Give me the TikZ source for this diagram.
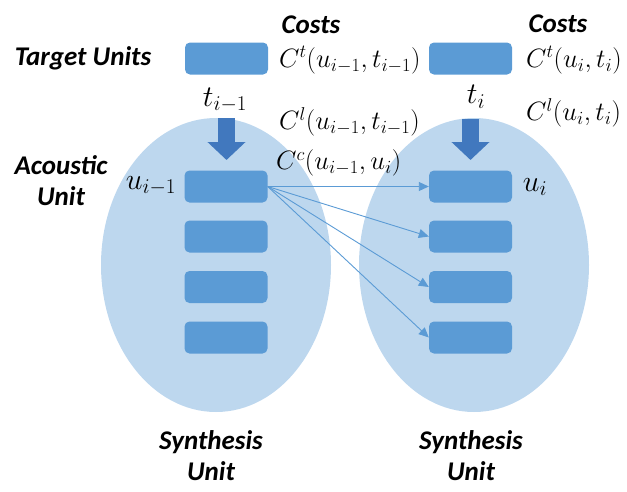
\RequirePackage{fix-cm}
\documentclass[tikz,border=0pt]{standalone}
\usepackage{fontspec}
\setmainfont{Carlito}
\usetikzlibrary{arrows.meta,shapes.geometric}
\definecolor{rectblue}{RGB}{91,155,213}
\definecolor{ellblue}{RGB}{189,215,238}
\definecolor{arrblue}{RGB}{65,120,190}
\begin{document}
\begin{tikzpicture}[x=1pt,y=-1pt,
  unitbox/.style={fill=rectblue, rounded corners=5pt, minimum width=83pt, minimum height=32pt, inner sep=0pt, draw=none},
  ellbox/.style={ellipse, fill=ellblue, draw=none, minimum width=230pt, minimum height=294pt, inner sep=0pt},
  lbl/.style={font=\fontsize{27}{31}\selectfont\bfseries\itshape, align=center, inner sep=0pt},
  mlbl/.style={font=\fontsize{26.5}{30}\selectfont, inner sep=0pt, anchor=west},
  vlbl/.style={font=\fontsize{30}{34}\selectfont, inner sep=0pt},
  bigarrow/.style={draw=arrblue, line width=17pt, -{Triangle[width=37pt,length=18pt]}},
  thinarrow/.style={draw=rectblue, line width=0.9pt, -{Triangle[width=9pt,length=10pt]}}]
\useasboundingbox (0,0) rectangle (627,491);
% ellipses
\node[ellbox] (ellL) at (216,265) {};
\node[ellbox] (ellR) at (474,265) {};
% target units
\node[unitbox] (tu1) at (226.5,58.5) {};
\node[unitbox] (tu2) at (470.5,58.5) {};
% acoustic units
\node[unitbox] (a1) at (226,186.5) {};
\node[unitbox] (a2) at (226,236.5) {};
\node[unitbox] (a3) at (226,287) {};
\node[unitbox] (a4) at (226,337.5) {};
\node[unitbox] (b1) at (470.5,186.5) {};
\node[unitbox] (b2) at (470.5,236.5) {};
\node[unitbox] (b3) at (470.5,287) {};
\node[unitbox] (b4) at (470.5,337.5) {};
% big arrows
\coordinate (s1) at (226.5,118);
\coordinate (e1) at (226.5,160);
\coordinate (s2) at (470.5,119);
\coordinate (e2) at (470.5,160);
\draw[bigarrow] (s1) -- (e1);
\draw[bigarrow] (s2) -- (e2);
% thin arrows
\draw[thinarrow] (a1.east) -- (b1.west);
\draw[thinarrow] (a1.east) -- (b2.west);
\draw[thinarrow] (a1.east) -- (b3.west);
\draw[thinarrow] (a1.east) -- (b4.west);
% labels
\node[lbl] (target) at (83,58) {Target Units};
\node[lbl] (acoustic) at (61,181) {Acoustic\\Unit};
\node[lbl] (synL) at (211,456) {Synthesis\\Unit};
\node[lbl] (synR) at (471,456) {Synthesis\\Unit};
\node[lbl] (costs1) at (311,25) {Costs};
\node[lbl] (costs2) at (558,24) {Costs};
\node[mlbl] (ct1) at (279,60) {$C^t(u_{i-1},t_{i-1})$};
\node[mlbl] (cl1) at (279,122) {$C^l(u_{i-1},t_{i-1})$};
\node[mlbl] (cc) at (276,163) {$C^c(u_{i-1},u_i)$};
\node[mlbl] (ct2) at (526,60) {$C^t(u_i,t_i)$};
\node[mlbl] (cl2) at (526,113) {$C^l(u_i,t_i)$};
\node[vlbl] (tl) at (225,100) {$t_{i-1}$};
\node[vlbl] (tr) at (476,97) {$t_i$};
\node[vlbl] (ul) at (151,186) {$u_{i-1}$};
\node[vlbl] (ur) at (535,187) {$u_i$};
\end{tikzpicture}
\end{document}
